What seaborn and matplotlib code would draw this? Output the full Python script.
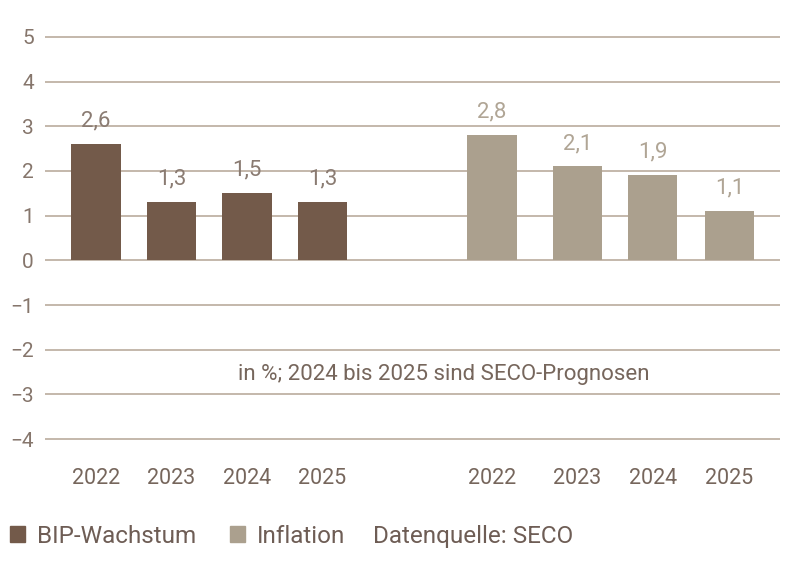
import matplotlib
matplotlib.use("Agg")
import matplotlib.pyplot as plt
import pandas as pd
import seaborn as sns
from matplotlib.patches import Patch

# data
years = ["2022", "2023", "2024", "2025"]
gdp_growth = [2.6, 1.3, 1.5, 1.3]
inflation = [2.8, 2.1, 1.9, 1.1]
series_names = ["BIP-Wachstum", "Inflation"]
note_text = "in %; 2024 bis 2025 sind SECO-Prognosen"
source_text = "Datenquelle: SECO"

# layout (bar centres in axis units)
gdp_pos = [0.0, 1.0, 2.0, 3.0]
infl_pos = [5.245, 6.377, 7.377, 8.39]

DARK = "#735a4a"
LIGHT = "#aba08e"
GRID = "#c4b8ab"
TICK = "#86766c"

sns.set_theme(style="white")
plt.rcParams["font.family"] = ["Roboto", "DejaVu Sans"]

df = pd.DataFrame({
    "pos": gdp_pos + infl_pos,
    "value": gdp_growth + inflation,
    "series": [series_names[0]] * 4 + [series_names[1]] * 4,
})

fig = plt.figure(figsize=(8, 5.66), dpi=100)
ax = fig.add_axes([0.05625, 0.2226, 0.91875, 0.7138])

sns.barplot(
    data=df, x="pos", y="value", hue="series", native_scale=True,
    dodge=False, width=0.65, palette=[DARK, LIGHT], saturation=1,
    linewidth=0, legend=False, ax=ax, zorder=3,
)

ax.set_ylim(-4.02, 5.02)
ax.set_xlim(-0.675, 9.06)
ax.set_yticks(range(-4, 6))
ax.set_yticklabels([str(v).replace("-", "\u2212") for v in range(-4, 6)])
ax.set_xticks(gdp_pos + infl_pos)
ax.set_xticklabels(years + years)
ax.tick_params(axis="y", length=0, pad=8, labelsize=15, labelcolor=TICK)
ax.tick_params(axis="x", length=0, pad=20, labelsize=15.5, labelcolor="#76665c")
ax.set_xlabel("")
ax.set_ylabel("")
ax.grid(axis="y", color=GRID, linewidth=1.4, zorder=0)
ax.grid(axis="x", visible=False)
ax.set_axisbelow(True)
for s in ax.spines.values():
    s.set_visible(False)

for x, v in zip(gdp_pos, gdp_growth):
    ax.annotate(f"{v:.1f}".replace(".", ","), (x, v), xytext=(0, 9),
                textcoords="offset points", ha="center", va="bottom",
                fontsize=16, color="#8a7b72")
for x, v in zip(infl_pos, inflation):
    ax.annotate(f"{v:.1f}".replace(".", ","), (x, v), xytext=(0, 9),
                textcoords="offset points", ha="center", va="bottom",
                fontsize=16, color="#b0a595")

ax.text(4.6, -2.55, note_text, ha="center", va="center", fontsize=16,
        color="#76665c")

handles = [Patch(color=DARK), Patch(color=LIGHT)]
fig.legend(handles, series_names, loc="center left", bbox_to_anchor=(0.0125, 0.053),
           ncol=2, frameon=False, fontsize=17.5, handlelength=0.6, handleheight=0.6,
           handletextpad=0.5, columnspacing=1.4, borderpad=0, borderaxespad=0,
           labelcolor="#6e5d55")
fig.text(0.466, 0.053, source_text, ha="left", va="center", fontsize=17.5,
         color="#6e5d55")

fig.savefig("out.png", dpi=100)
